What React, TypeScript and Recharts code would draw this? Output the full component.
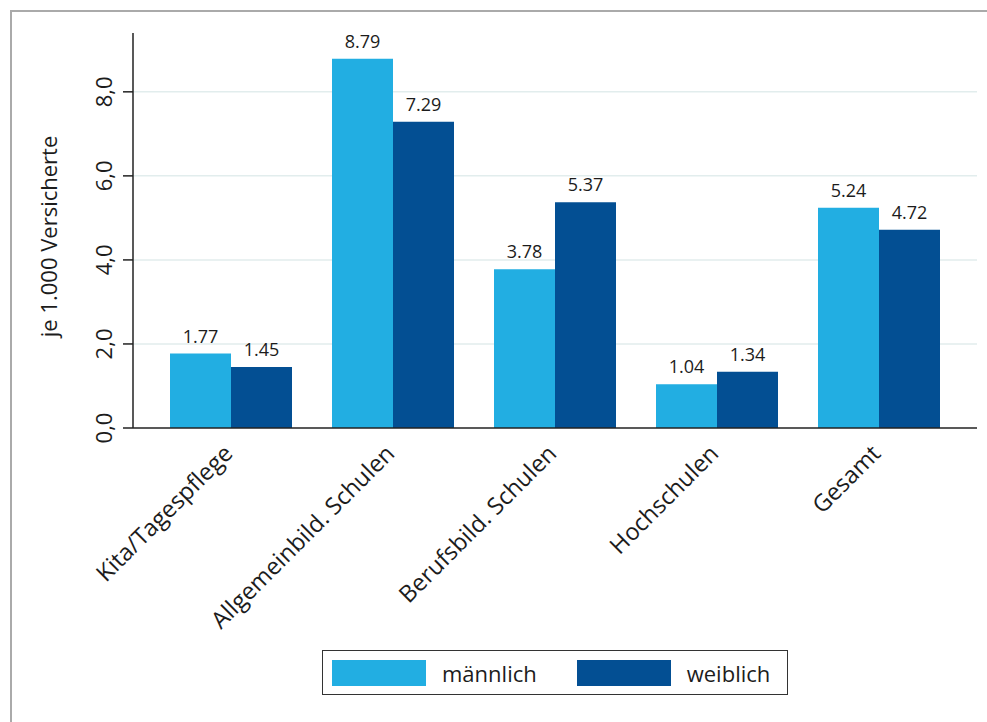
import React from "react";
import {
  BarChart,
  Bar,
  XAxis,
  YAxis,
  CartesianGrid,
  LabelList,
  Label,
} from "recharts";

const categories = [
  "Kita/Tagespflege",
  "Allgemeinbild. Schulen",
  "Berufsbild. Schulen",
  "Hochschulen",
  "Gesamt",
];
const maennlich = [1.77, 8.79, 3.78, 1.04, 5.24];
const weiblich = [1.45, 7.29, 5.37, 1.34, 4.72];
const seriesNames = ["männlich", "weiblich"];
const yTicks = [0, 2, 4, 6, 8];
const gridValues = [2, 4, 6, 8];
const yDomain: [number, number] = [0, 9.4];

const LIGHT = "#22AEE2";
const DARK = "#034F93";
const TEXT = "#1c1c1c";
const FONT = "'Open Sans', 'Noto Sans', sans-serif";

const data = categories.map((name, i) => ({
  name,
  m: maennlich[i],
  w: weiblich[i],
}));

const formatTick = (v: number) => v.toFixed(1).replace(".", ",");

// grid only at the inner ticks, no line along the top edge
const gridCoords = ({ yAxis, offset }: any) => {
  const s = yAxis && yAxis.scale;
  return gridValues.map((v) => {
    if (typeof s === "function") return s(v);
    if (s && typeof s.map === "function") return s.map(v);
    return offset.top + offset.height * (1 - (v - yDomain[0]) / (yDomain[1] - yDomain[0]));
  });
};

const YTick = (props: any) => {
  const { y, payload } = props;
  return (
    <text
      x={103}
      y={y}
      transform={`rotate(-90, 103, ${y})`}
      textAnchor="middle"
      dominantBaseline="central"
      fontSize={22}
      fill={TEXT}
      fontFamily={FONT}
    >
      {formatTick(payload.value)}
    </text>
  );
};

const XTick = (props: any) => {
  const { x, y, payload } = props;
  const tx = x + 3;
  const ty = y + 19;
  return (
    <text
      x={tx}
      y={ty}
      transform={`rotate(-45, ${tx}, ${ty})`}
      textAnchor="end"
      fontSize={23.5}
      fill={TEXT}
      fontFamily={FONT}
    >
      {payload.value}
    </text>
  );
};

const colors = [LIGHT, DARK];

export default function App() {
  return (
    <div
      style={{
        position: "absolute",
        left: 0,
        top: 0,
        width: 987,
        height: 722,
        background: "#fff",
        overflow: "hidden",
        fontFamily: FONT,
      }}
    >
      <div
        style={{
          position: "absolute",
          left: 10,
          top: 10,
          width: 1000,
          height: 800,
          borderLeft: "2px solid #aaaaaa",
          borderTop: "2px solid #aaaaaa",
        }}
      />
      <div style={{ position: "absolute", left: 0, top: 0 }}>
        <BarChart
          width={987}
          height={722}
          data={data}
          margin={{ top: 33, right: 10, left: 0, bottom: 0 }}
          barGap={0}
          barSize={61}
        >
          <CartesianGrid
            vertical={false}
            stroke="#e2eded"
            strokeWidth={1.5}
            horizontalCoordinatesGenerator={gridCoords}
          />
          <XAxis
            dataKey="name"
            height={294}
            padding={{ left: 17, right: 17 }}
            axisLine={{ stroke: "#222", strokeWidth: 1.5 }}
            tickLine={false}
            tick={<XTick />}
            interval={0}
          />
          <YAxis
            width={133}
            domain={yDomain}
            ticks={yTicks}
            axisLine={{ stroke: "#222", strokeWidth: 1.5 }}
            tickLine={{ stroke: "#222", strokeWidth: 1.5 }}
            tickSize={10}
            tick={<YTick />}
          >
            <Label
              value="je 1.000 Versicherte"
              angle={-90}
              position="insideLeft"
              content={(p: any) => {
                const vb = p.viewBox;
                const cy = vb.y + vb.height / 2 + 6;
                return (
                  <text
                    x={48}
                    y={cy}
                    transform={`rotate(-90, 48, ${cy})`}
                    textAnchor="middle"
                    dominantBaseline="central"
                    fontSize={22}
                    fill={TEXT}
                    fontFamily={FONT}
                  >
                    je 1.000 Versicherte
                  </text>
                );
              }}
            />
          </YAxis>
          {["m", "w"].map((key, i) => (
            <Bar
              key={key}
              dataKey={key}
              name={seriesNames[i]}
              fill={colors[i]}
              isAnimationActive={false}
            >
              <LabelList
                dataKey={key}
                position="top"
                offset={11}
                formatter={(v: number) => v.toFixed(2)}
                style={{ fontSize: 18, fill: TEXT, fontFamily: FONT }}
              />
            </Bar>
          ))}
        </BarChart>
      </div>
      <div
        style={{
          position: "absolute",
          left: 322,
          top: 650,
          width: 466,
          height: 45,
          boxSizing: "border-box",
          border: "1.5px solid #333",
          display: "flex",
          alignItems: "center",
          paddingLeft: 9,
        }}
      >
        {seriesNames.map((n, i) => (
          <div
            key={n}
            style={{
              display: "flex",
              alignItems: "center",
              marginRight: i === 0 ? 40 : 0,
            }}
          >
            <div
              style={{
                width: 94,
                height: 26,
                background: colors[i],
                marginRight: 16,
              }}
            />
            <span style={{ fontSize: 22, color: TEXT, lineHeight: "26px" }}>
              {n}
            </span>
          </div>
        ))}
      </div>
    </div>
  );
}
